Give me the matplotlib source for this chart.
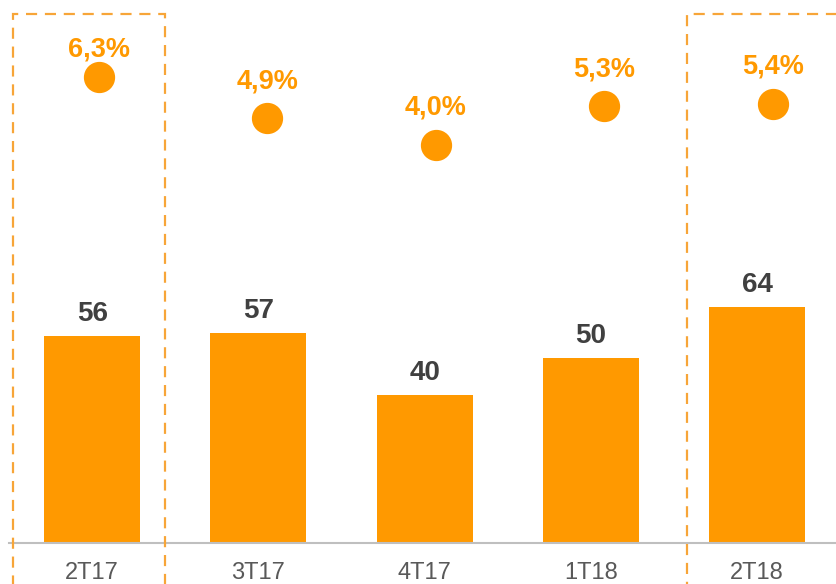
import matplotlib
matplotlib.use("Agg")
import matplotlib.pyplot as plt
from matplotlib.patches import Rectangle

categories = ["2T17", "3T17", "4T17", "1T18", "2T18"]
values = [56, 57, 40, 50, 64]
pct = [6.3, 4.9, 4.0, 5.3, 5.4]
pct_labels = ["6,3%", "4,9%", "4,0%", "5,3%", "5,4%"]

ORANGE = "#FF9900"
DARK = "#404040"
GRAY = "#595959"

plt.rcParams['font.family'] = ['Liberation Sans', 'DejaVu Sans']

W, H = 837, 584
fig = plt.figure(figsize=(W / 100, H / 100), dpi=100)
rect = [9 / W, 41 / H, (W - 9) / W, 543 / H]
ax = fig.add_axes(rect)
x = list(range(len(categories)))
ax.bar(x, values, width=0.577, color=ORANGE, zorder=2)
ax.set_xlim(-0.5, 4.48)
ax.set_ylim(0, 147.15)
for s in ["top", "right", "left"]:
    ax.spines[s].set_visible(False)
ax.spines["bottom"].set_color("#BFBFBF")
ax.spines["bottom"].set_linewidth(1.5)
ax.set_yticks([])
ax.set_xticks([])
for xi, c in zip(x, categories):
    ax.annotate(c, (xi, 0), xycoords=("data", "axes fraction"), xytext=(0, -26),
                textcoords="offset points", ha="center", va="baseline",
                fontsize=17, color=GRAY, annotation_clip=False)
for xi, v in zip(x, values):
    ax.annotate(str(v), (xi, v), xytext=(0, 10.8), textcoords="offset points",
                ha="center", va="baseline", fontsize=20, fontweight="bold", color=DARK)

ax2 = fig.add_axes(rect)
ax2.set_xlim(-0.534, 4.380)
ax2.set_ylim(-9.46, 8.90)
ax2.axis("off")
ax2.patch.set_alpha(0)
ax2.plot(x, pct, "o", color=ORANGE, markersize=21.5, linestyle="none")
label_offsets = [14.4, 21.6, 21.6, 21.6, 21.6]
for xi, p, lab, off in zip(x, pct, pct_labels, label_offsets):
    ax2.annotate(lab, (xi, p), xytext=(0, off), textcoords="offset points",
                 ha="center", va="baseline", fontsize=19.5, fontweight="bold", color=ORANGE)

box_kw = dict(fill=False, edgecolor="#F7A538", linewidth=1.6, linestyle=(0, (5, 3.5)),
              transform=fig.transFigure, clip_on=False)
fig.patches.append(Rectangle((13 / W, -0.05), 152 / W, (H - 14) / H + 0.05, **box_kw))
fig.patches.append(Rectangle((687 / W, -0.05), 160 / W, (H - 14) / H + 0.05, **box_kw))

fig.savefig("out.png", dpi=100)
